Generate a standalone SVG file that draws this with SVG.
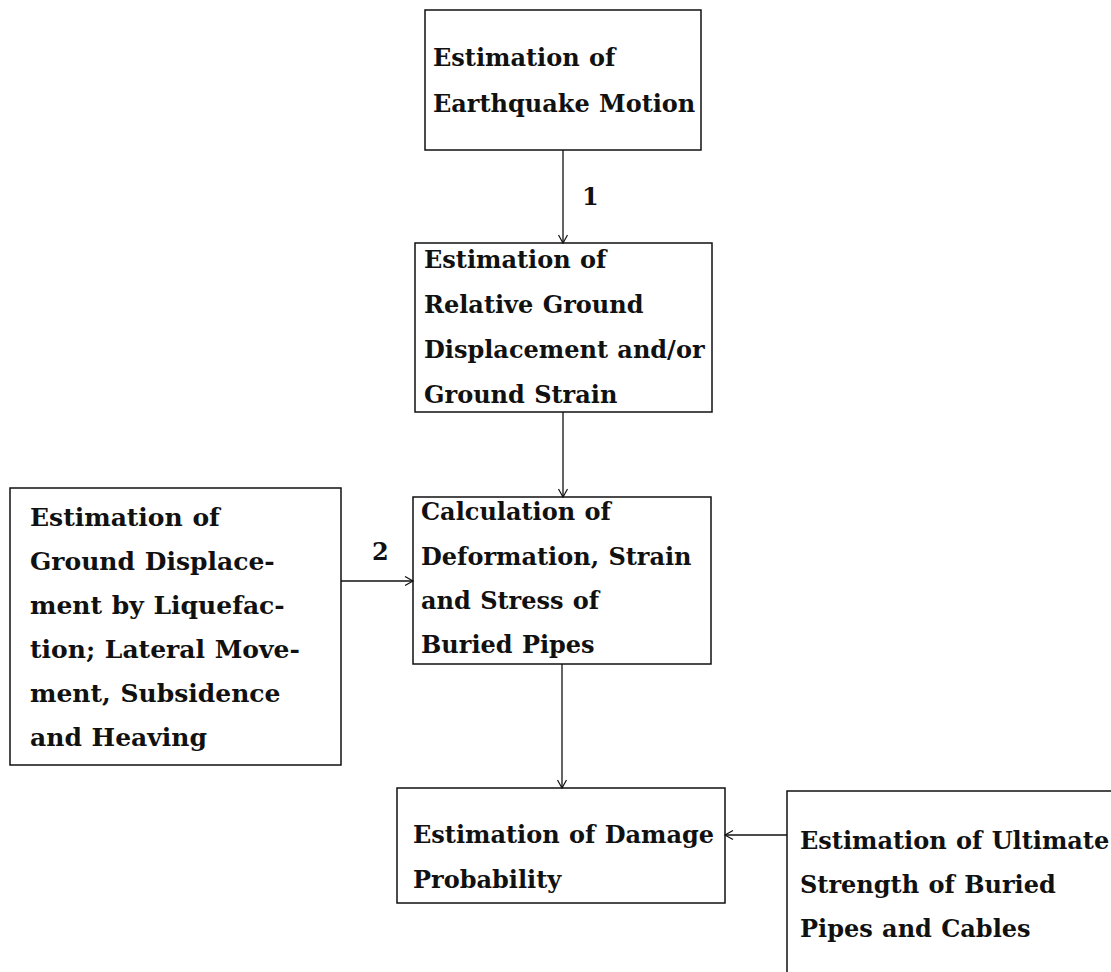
<svg xmlns="http://www.w3.org/2000/svg" width="1111" height="972" viewBox="0 0 1111 972">
<style>
.box{fill:none;stroke:#111;stroke-width:1.5}
.t{font-family:"DejaVu Serif","Liberation Serif",serif;font-weight:bold;font-size:24px;word-spacing:1px;fill:#111}
.w{font-size:25px}
.c{stroke:#111;stroke-width:1.3;fill:none}
</style>
<defs>
<marker id="arr" markerUnits="userSpaceOnUse" markerWidth="12" markerHeight="12" refX="9" refY="5" orient="auto">
<path d="M1,0.5 L9,5 L1,9.5" fill="none" stroke="#111" stroke-width="1.2"/>
</marker>
</defs>
<rect width="1111" height="972" fill="#fff"/>
<g id="n1">
<rect class="box" x="425" y="10" width="276" height="140"/>
<text class="t" x="433" y="66">Estimation of</text>
<text class="t" x="433" y="112">Earthquake Motion</text>
</g>
<g id="n2">
<rect class="box" x="415" y="243" width="297" height="169"/>
<text class="t" x="424" y="268">Estimation of</text>
<text class="t" x="424" y="313">Relative Ground</text>
<text class="t" x="424" y="358">Displacement and/or</text>
<text class="t" x="424" y="403">Ground Strain</text>
</g>
<g id="n3">
<rect class="box" x="413" y="497" width="298" height="167"/>
<text class="t" x="421" y="520">Calculation of</text>
<text class="t" x="421" y="565">Deformation, Strain</text>
<text class="t" x="421" y="609">and Stress of</text>
<text class="t" x="421" y="653">Buried Pipes</text>
</g>
<g id="n4">
<rect class="box" x="10" y="488" width="331" height="277"/>
<text class="t w" x="30" y="526">Estimation of</text>
<text class="t w" x="30" y="570">Ground Displace-</text>
<text class="t w" x="30" y="614">ment by Liquefac-</text>
<text class="t w" x="30" y="658">tion; Lateral Move-</text>
<text class="t w" x="30" y="702">ment, Subsidence</text>
<text class="t w" x="30" y="746">and Heaving</text>
</g>
<g id="n5">
<rect class="box" x="397" y="788" width="328" height="115"/>
<text class="t" x="413" y="843">Estimation of Damage</text>
<text class="t" x="413" y="888">Probability</text>
</g>
<g id="n6">
<rect class="box" x="787" y="791" width="400" height="300"/>
<text class="t" x="800" y="849">Estimation of Ultimate</text>
<text class="t" x="800" y="893">Strength of Buried</text>
<text class="t" x="800" y="937">Pipes and Cables</text>
</g>
<g id="connectors">
<line class="c" x1="563" y1="150" x2="563" y2="243" marker-end="url(#arr)"/>
<line class="c" x1="563" y1="412" x2="563" y2="497" marker-end="url(#arr)"/>
<line class="c" x1="562" y1="664" x2="562" y2="788" marker-end="url(#arr)"/>
<line class="c" x1="341" y1="581" x2="413" y2="581" marker-end="url(#arr)"/>
<line class="c" x1="787" y1="835" x2="725" y2="835" marker-end="url(#arr)"/>
<text class="t" x="582" y="205">1</text>
<text class="t" x="372" y="560">2</text>
</g>
</svg>
